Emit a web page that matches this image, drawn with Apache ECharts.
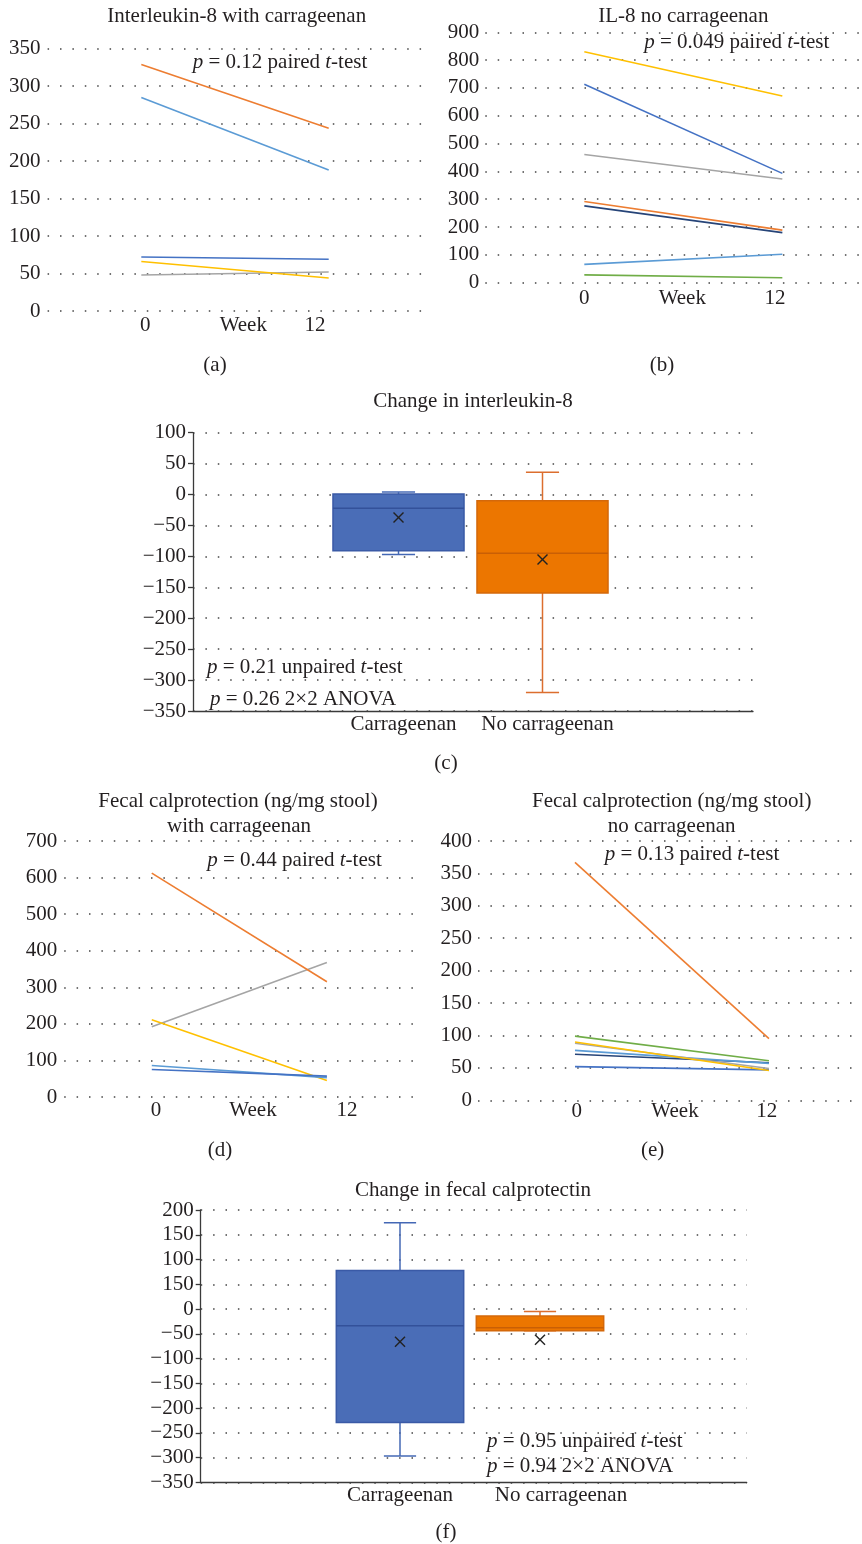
<!DOCTYPE html>
<html>
<head>
<meta charset="utf-8">
<script src="https://cdn.jsdelivr.net/npm/echarts@6/dist/echarts.min.js"></script>
<style>
html,body{margin:0;padding:0;background:#fff;}
#c{width:862px;height:1544px;}
</style>
</head>
<body>
<div id="c"></div>
<script>
// ---------- DATA ----------
const weeks = [0, 12];

// (a) Interleukin-8 with carrageenan
const il8CarrOrange = [329, 244];
const il8CarrLightBlue = [285, 188];
const il8CarrBlue = [72, 69];
const il8CarrYellow = [66, 44];
const il8CarrGray = [48, 52];

// (b) IL-8 no carrageenan
const il8NoYellow = [830, 671];
const il8NoBlue = [713, 393];
const il8NoGray = [461, 373];
const il8NoOrange = [292, 189];
const il8NoNavy = [276, 180];
const il8NoLightBlue = [66, 102];
const il8NoGreen = [28, 18];

// (c) Change in interleukin-8 : [min, q1, median, q3, max], mean
const boxCategories = ['Carrageenan', 'No carrageenan'];
const il8ChangeCarr = [-97, -91, -22, 1, 4];
const il8ChangeCarrMean = -37;
const il8ChangeNo = [-320, -159, -95, -10, 36];
const il8ChangeNoMean = -105;

// (d) Fecal calprotectin with carrageenan
const fcCarrOrange = [612, 315];
const fcCarrGray = [192, 368];
const fcCarrYellow = [211, 45];
const fcCarrLightBlue = [86, 53];
const fcCarrBlue = [75, 57];

// (e) Fecal calprotectin no carrageenan
const fcNoOrange = [367, 95];
const fcNoGreen = [99, 61];
const fcNoGray = [88, 49];
const fcNoYellow = [90, 46];
const fcNoLightBlue = [77, 57];
const fcNoNavy = [71, 58];
const fcNoBlue = [52, 47];

// (f) Change in fecal calprotectin
const fcChangeCarr = [-297, -229, -34, 78, 174];
const fcChangeCarrMean = -66;
const fcChangeNo = [-44, -44, -38, -14, -5];
const fcChangeNoMean = -62;
const fcChangeTickValues = [200, 150, 100, 50, 0, -50, -100, -150, -200, -250, -300, -350];
const fcChangeTickLabels = ['200', '150', '100', '150', '0', '\u221250', '\u2212100', '\u2212150', '\u2212200', '\u2212250', '\u2212300', '\u2212350'];

// ---------- STYLE ----------
const FONT = 'Liberation Serif';
const FS = 21;
const TXT = '#231f20';
const C = {
  orange: '#ED7D31', lightBlue: '#5B9BD5', blue: '#4472C4', yellow: '#FFC000',
  gray: '#A5A5A5', navy: '#264478', green: '#70AD47'
};
const dotted = { color: '#444', width: 1.5, type: [1.5, 10.9] };

const chart = echarts.init(document.getElementById('c'), null, { renderer: 'canvas' });

// grid geometry helper: (left, width, top, height)
const grids = [
  { left: 47.6, width: 374.8, top: 48.7, height: 262.3 },   // 0 a
  { left: 485.3, width: 374.6, top: 32.3, height: 250.4 },  // 1 b
  { left: 193, width: 560, top: 432.7, height: 278.3 },     // 2 c frame
  { left: 326.5, width: 288, top: 432.7, height: 278.3 },   // 3 c boxes
  { left: 64.2, width: 348.8, top: 841, height: 256 },      // 4 d
  { left: 478, width: 375, top: 841, height: 259.3 },       // 5 e
  { left: 200.7, width: 546, top: 1210, height: 272.3 },    // 6 f frame
  { left: 330, width: 280, top: 1210, height: 272.3 }       // 7 f boxes
];

function lineX(min, max) {
  return { type: 'value', min, max, show: true, axisLine: { show: false }, axisTick: { show: false },
    axisLabel: { show: false }, splitLine: { show: false } };
}
function lineY(max, interval, margin) {
  return { type: 'value', min: 0, max, interval,
    axisLine: { show: false }, axisTick: { show: false },
    axisLabel: { color: TXT, fontFamily: FONT, fontSize: FS, margin },
    splitLine: { show: true, lineStyle: dotted } };
}
const axisDark = { color: '#3a3a3a', width: 1.3 };
function frameX() {
  return { type: 'value', min: 0, max: 1, axisLine: { show: true, onZero: false, lineStyle: axisDark },
    axisTick: { show: false }, axisLabel: { show: false }, splitLine: { show: false } };
}
function frameY(min, max, fmt) {
  return { type: 'value', min, max, interval: 50,
    axisLine: { show: true, onZero: false, lineStyle: axisDark },
    axisTick: { show: true, inside: false, length: 5, lineStyle: axisDark },
    axisLabel: { color: TXT, fontFamily: FONT, fontSize: FS, margin: 7, formatter: fmt },
    splitLine: { show: true, lineStyle: dotted } };
}
function boxX(shifts) {
  return { type: 'category', data: boxCategories, boundaryGap: true,
    axisLine: { show: false }, axisTick: { show: false }, splitLine: { show: false },
    axisLabel: { color: TXT, fontFamily: FONT, fontSize: FS, margin: 3, interval: 0,
      formatter: (v, i) => '{s' + i + '|' + v + '}',
      rich: {
        s0: { fontFamily: FONT, fontSize: FS, color: TXT, padding: [0, 0, 0, shifts[0] * 2] },
        s1: { fontFamily: FONT, fontSize: FS, color: TXT, padding: [0, 0, 0, shifts[1] * 2] }
      } } };
}
function boxY(min, max) {
  return { type: 'value', min, max, interval: 50, show: false, splitLine: { show: false } };
}

const xAxis = [
  lineX(-6, 18), lineX(-6, 16.7), frameX(), boxX([5, 5]),
  lineX(-6, 17.9), lineX(-6, 17.2), frameX(), boxX([0, 21])
];
const yAxis = [
  lineY(350, 50, 7), lineY(900, 100, 6),
  frameY(-350, 100, v => String(v).replace('-', '\u2212')), boxY(-350, 100),
  lineY(700, 100, 7), lineY(400, 50, 6),
  frameY(-350, 200, v => fcChangeTickLabels[fcChangeTickValues.indexOf(v)]), boxY(-350, 200)
];

function lineSeries(idx, vals, color) {
  return { type: 'line', xAxisIndex: idx, yAxisIndex: idx, data: weeks.map((w, i) => [w, vals[i]]),
    symbol: 'none', silent: true, animation: false, lineStyle: { color, width: 1.6 } };
}

function boxSeries(idx, catIndex, stats, mean, col) {
  return {
    type: 'custom', xAxisIndex: idx, yAxisIndex: idx, silent: true, animation: false,
    data: [[catIndex].concat(stats).concat([mean])],
    encode: { x: 0, y: [1, 2, 3, 4, 5, 6] },
    renderItem: function (params, api) {
      const cx = api.value(0);
      const lo = api.coord([cx, api.value(1)]);
      const q1 = api.coord([cx, api.value(2)]);
      const md = api.coord([cx, api.value(3)]);
      const q3 = api.coord([cx, api.value(4)]);
      const hi = api.coord([cx, api.value(5)]);
      const mn = api.coord([cx, api.value(6)]);
      const band = api.size([1, 0])[0];
      const bw = band * 0.91, cw = band * 0.23;
      const x = lo[0];
      const wl = { stroke: col.whisker, lineWidth: 1.5 };
      const s = 5;
      return {
        type: 'group',
        children: [
          { type: 'line', shape: { x1: x, y1: q3[1], x2: x, y2: hi[1] }, style: wl },
          { type: 'line', shape: { x1: x - cw / 2, y1: hi[1], x2: x + cw / 2, y2: hi[1] }, style: wl },
          { type: 'line', shape: { x1: x, y1: q1[1], x2: x, y2: lo[1] }, style: wl },
          { type: 'line', shape: { x1: x - cw / 2, y1: lo[1], x2: x + cw / 2, y2: lo[1] }, style: wl },
          { type: 'rect', shape: { x: x - bw / 2, y: q3[1], width: bw, height: q1[1] - q3[1] },
            style: { fill: col.fill, stroke: col.border, lineWidth: 1.5 } },
          { type: 'line', shape: { x1: x - bw / 2, y1: md[1], x2: x + bw / 2, y2: md[1] },
            style: { stroke: col.median, lineWidth: 1.5 } },
          { type: 'line', shape: { x1: mn[0] - s, y1: mn[1] - s, x2: mn[0] + s, y2: mn[1] + s },
            style: { stroke: '#222', lineWidth: 1.4 } },
          { type: 'line', shape: { x1: mn[0] - s, y1: mn[1] + s, x2: mn[0] + s, y2: mn[1] - s },
            style: { stroke: '#222', lineWidth: 1.4 } }
        ]
      };
    }
  };
}
const blueBox = { fill: '#4A6DB7', border: '#3A5AA6', whisker: '#4468B5', median: '#33519A' };
const orangeBox = { fill: '#EC7600', border: '#D4680A', whisker: '#DC6E2E', median: '#C95F05' };

const series = [
  lineSeries(0, il8CarrGray, C.gray),
  lineSeries(0, il8CarrYellow, C.yellow),
  lineSeries(0, il8CarrBlue, C.blue),
  lineSeries(0, il8CarrLightBlue, C.lightBlue),
  lineSeries(0, il8CarrOrange, C.orange),

  lineSeries(1, il8NoGreen, C.green),
  lineSeries(1, il8NoLightBlue, C.lightBlue),
  lineSeries(1, il8NoNavy, C.navy),
  lineSeries(1, il8NoOrange, C.orange),
  lineSeries(1, il8NoGray, C.gray),
  lineSeries(1, il8NoBlue, C.blue),
  lineSeries(1, il8NoYellow, C.yellow),

  boxSeries(3, 0, il8ChangeCarr, il8ChangeCarrMean, blueBox),
  boxSeries(3, 1, il8ChangeNo, il8ChangeNoMean, orangeBox),

  lineSeries(4, fcCarrGray, C.gray),
  lineSeries(4, fcCarrYellow, C.yellow),
  lineSeries(4, fcCarrLightBlue, C.lightBlue),
  lineSeries(4, fcCarrBlue, C.blue),
  lineSeries(4, fcCarrOrange, C.orange),

  lineSeries(5, fcNoBlue, C.blue),
  lineSeries(5, fcNoNavy, C.navy),
  lineSeries(5, fcNoLightBlue, C.lightBlue),
  lineSeries(5, fcNoGray, C.gray),
  lineSeries(5, fcNoYellow, C.yellow),
  lineSeries(5, fcNoGreen, C.green),
  lineSeries(5, fcNoOrange, C.orange),

  boxSeries(7, 0, fcChangeCarr, fcChangeCarrMean, blueBox),
  boxSeries(7, 1, fcChangeNo, fcChangeNoMean, orangeBox)
];

// ---------- TEXT ----------
const rich = {
  i: { fontFamily: FONT, fontSize: FS, fontStyle: 'italic', fill: TXT, color: TXT }
};
function txt(text, x, y, align) {
  return { type: 'text', x, y, silent: true,
    style: { text, fill: TXT, fontFamily: FONT, fontSize: FS, align: align || 'center',
      verticalAlign: 'middle', rich } };
}
const graphic = [
  txt('Interleukin-8 with carrageenan', 236.7, 16.7),
  txt('{i|p} = 0.12 paired {i|t}-test', 280, 62),
  txt('0', 145.3, 325), txt('Week', 243.3, 325), txt('12', 315, 325),
  txt('(a)', 215, 365),

  txt('IL-8 no carrageenan', 683.3, 16.7),
  txt('{i|p} = 0.049 paired {i|t}-test', 736.7, 42.7),
  txt('0', 584.3, 298.3), txt('Week', 682.3, 298.3), txt('12', 775, 298.3),
  txt('(b)', 662, 365),

  txt('Change in interleukin-8', 473, 401.7),
  txt('{i|p} = 0.21 unpaired {i|t}-test', 207, 667, 'left'),
  txt('{i|p} = 0.26 2\u00d72 ANOVA', 210, 699, 'left'),
  txt('(c)', 446, 763),

  txt('Fecal calprotection (ng/mg stool)', 238, 801),
  txt('with carrageenan', 239, 826.7),
  txt('{i|p} = 0.44 paired {i|t}-test', 294.5, 860),
  txt('0', 156, 1110), txt('Week', 253, 1110), txt('12', 347, 1110),
  txt('(d)', 220, 1150),

  txt('Fecal calprotection (ng/mg stool)', 671.7, 801),
  txt('no carrageenan', 671.7, 826.7),
  txt('{i|p} = 0.13 paired {i|t}-test', 692, 854),
  txt('0', 576.7, 1111.7), txt('Week', 675, 1111.7), txt('12', 766.7, 1111.7),
  txt('(e)', 652.7, 1150),

  txt('Change in fecal calprotectin', 473, 1190),
  txt('{i|p} = 0.95 unpaired {i|t}-test', 487, 1441.7, 'left'),
  txt('{i|p} = 0.94 2\u00d72 ANOVA', 487, 1466, 'left'),
  txt('(f)', 446, 1532)
];

chart.setOption({
  backgroundColor: '#fff',
  animation: false,
  textStyle: { fontFamily: FONT },
  grid: grids.map(g => Object.assign({ containLabel: false }, g)),
  xAxis: xAxis.map((a, i) => Object.assign({ gridIndex: i }, a)),
  yAxis: yAxis.map((a, i) => Object.assign({ gridIndex: i }, a)),
  series,
  graphic
});
</script>
</body>
</html>
